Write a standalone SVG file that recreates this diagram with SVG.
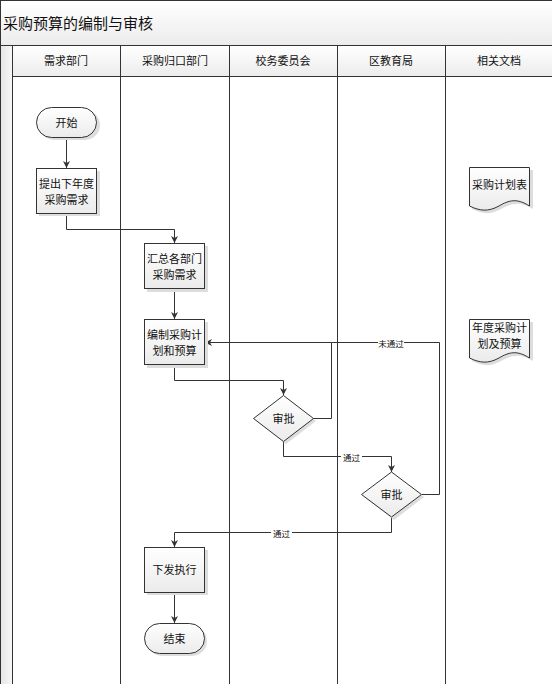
<svg xmlns="http://www.w3.org/2000/svg" width="552" height="684" viewBox="0 0 552 684">
<style>
text{font-family:"Noto Sans CJK SC","Noto Sans",sans-serif;fill:#111;text-anchor:middle;dominant-baseline:central}
.t{font-size:11px}
.lbl{font-size:8.5px}
.shape{fill:url(#ng);stroke:#333;stroke-width:1}
.sh{fill:#ddd;stroke:none}
.lane{stroke:#333;stroke-width:1;fill:none}
.c{fill:none;stroke:#333;stroke-width:1;marker-end:url(#ar)}
.cn{fill:none;stroke:#333;stroke-width:1}
</style>
<defs>
<linearGradient id="ng" x1="0" y1="0" x2="0" y2="1"><stop offset="0" stop-color="#ffffff"/><stop offset="1" stop-color="#ebebeb"/></linearGradient>
<linearGradient id="hg" x1="0" y1="0" x2="0" y2="1"><stop offset="0" stop-color="#ffffff"/><stop offset="1" stop-color="#ececec"/></linearGradient>
<linearGradient id="lg" x1="0" y1="0" x2="1" y2="0"><stop offset="0" stop-color="#e6e6e6"/><stop offset="1" stop-color="#f8f8f8"/></linearGradient>
<marker id="ar" markerWidth="8" markerHeight="8" refX="7" refY="4" orient="auto" markerUnits="userSpaceOnUse"><path d="M0,0.5 L7,4 L0,7.5 L2,4 Z" fill="#333"/></marker>
</defs>
<rect x="0" y="0" width="552" height="684" fill="#fff"/>
<g id="frame">
<rect x="0.5" y="0.5" width="552" height="45" fill="url(#hg)" stroke="#333"/>
<text x="3" y="22" style="font-size:15px;text-anchor:start">采购预算的编制与审核</text>
<rect x="0.5" y="45.5" width="12" height="640" fill="url(#lg)" stroke="#333"/>
<rect x="12.5" y="45.5" width="540" height="31" fill="url(#hg)" stroke="#333"/>
<line class="lane" x1="120.5" y1="45" x2="120.5" y2="684"/>
<line class="lane" x1="229.5" y1="45" x2="229.5" y2="684"/>
<line class="lane" x1="337.5" y1="45" x2="337.5" y2="684"/>
<line class="lane" x1="445.5" y1="45" x2="445.5" y2="684"/>
<text class="t" x="66" y="60">需求部门</text>
<text class="t" x="175" y="60">采购归口部门</text>
<text class="t" x="283" y="60">校务委员会</text>
<text class="t" x="391" y="60">区教育局</text>
<text class="t" x="499" y="60">相关文档</text>
</g>
<g id="connectors">
<path class="c" d="M66.5,137 V168"/>
<path class="c" d="M66.5,213 V229.5 H174.5 V243"/>
<path class="c" d="M174.5,289 V319"/>
<path class="c" d="M174.5,365 V380.5 H283.5 V395"/>
<path class="c" d="M313,418.5 H331.5 V342.5 H205"/>
<path class="cn" d="M331.5,342.5 H439.5 V494.5 H422"/>
<path class="c" d="M283.5,441 V456.5 H391.5 V472"/>
<path class="c" d="M391.5,517 V532.5 H174.5 V547"/>
<path class="c" d="M174.5,592 V623"/>
<rect x="378" y="337" width="26" height="11" fill="#fff"/>
<text class="lbl" x="391" y="342.5">未通过</text>
<rect x="341" y="451" width="21" height="11" fill="#fff"/>
<text class="lbl" x="351.5" y="456.5">通过</text>
<rect x="271" y="527" width="21" height="11" fill="#fff"/>
<text class="lbl" x="281.5" y="532.5">通过</text>
</g>
<g id="start">
<rect class="sh" x="39" y="110" width="61" height="30" rx="15"/>
<rect class="shape" x="36.5" y="107.5" width="60" height="30" rx="15"/>
<text class="t" x="66.5" y="122">开始</text>
</g>
<g id="n1">
<rect class="sh" x="39" y="171" width="61" height="45"/>
<rect class="shape" x="36.5" y="168.5" width="60" height="45"/>
<text class="t" x="66.5" y="183">提出下年度</text>
<text class="t" x="66.5" y="199">采购需求</text>
</g>
<g id="n2">
<rect class="sh" x="147" y="246" width="61" height="46"/>
<rect class="shape" x="144.5" y="243.5" width="60" height="45"/>
<text class="t" x="174.5" y="258">汇总各部门</text>
<text class="t" x="174.5" y="274">采购需求</text>
</g>
<g id="n3">
<rect class="sh" x="147" y="322" width="61" height="46"/>
<rect class="shape" x="144.5" y="319.5" width="60" height="45"/>
<text class="t" x="174.5" y="334">编制采购计</text>
<text class="t" x="174.5" y="350">划和预算</text>
</g>
<g id="d1">
<path class="sh" d="M286,398 L316,421 L286,444 L256,421 Z"/>
<path class="shape" d="M283.5,395.5 L313.5,418.5 L283.5,441.5 L253.5,418.5 Z"/>
<text class="t" x="283.5" y="418">审批</text>
</g>
<g id="d2">
<path class="sh" d="M394,475 L424,497 L394,520 L364,497 Z"/>
<path class="shape" d="M391.5,472 L421.5,494.5 L391.5,517 L361.5,494.5 Z"/>
<text class="t" x="391.5" y="494">审批</text>
</g>
<g id="n4">
<rect class="sh" x="147" y="550" width="61" height="45"/>
<rect class="shape" x="144.5" y="547.5" width="60" height="45"/>
<text class="t" x="174.5" y="569">下发执行</text>
</g>
<g id="end">
<rect class="sh" x="147" y="626" width="60" height="30" rx="15"/>
<rect class="shape" x="144.5" y="623.5" width="60" height="30" rx="15"/>
<text class="t" x="174.5" y="638">结束</text>
</g>
<g id="doc1">
<path class="sh" d="M472,170 H533 V209 C520,201 512,203 501,209 C490,215 482,214 472,209 Z"/>
<path class="shape" d="M469.5,167.5 H529.5 V206 C517,198 509,200 499,206 C488,212 480,211 469.5,206 Z"/>
<text class="t" x="499.5" y="184">采购计划表</text>
</g>
<g id="doc2">
<path class="sh" d="M472,322 H533 V361 C520,353 512,355 501,361 C490,367 482,366 472,361 Z"/>
<path class="shape" d="M469.5,319.5 H529.5 V358 C517,350 509,352 499,358 C488,364 480,363 469.5,358 Z"/>
<text class="t" x="499.5" y="327">年度采购计</text>
<text class="t" x="499.5" y="343">划及预算</text>
</g>
</svg>
